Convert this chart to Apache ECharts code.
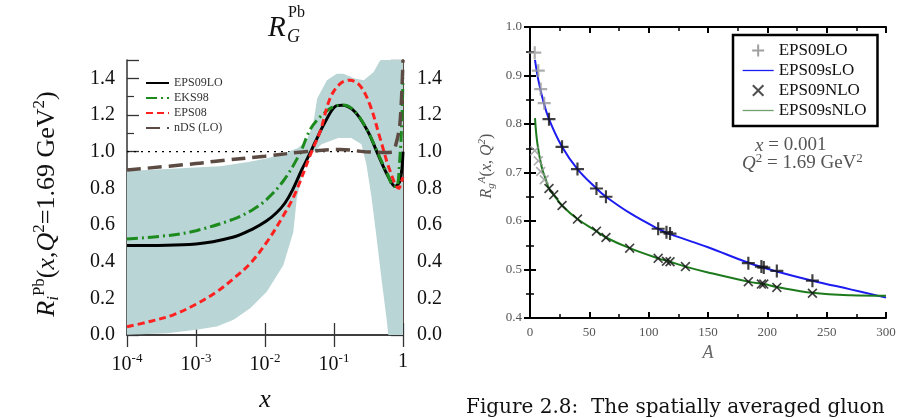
<!DOCTYPE html>
<html>
<head>
<meta charset="utf-8">
<script src="https://cdn.jsdelivr.net/npm/echarts@6/dist/echarts.min.js"></script>
<style>
  html, body { margin: 0; padding: 0; background: #fff; }
  #chart { width: 916px; height: 418px; }
</style>
</head>
<body>
<div id="chart"></div>
<script>
// left panel: R_G^Pb vs x (log axis)
var eps09loX = [1e-4, 1e-3, 3.4e-3, 6.6e-3, 1.06e-2, 1.48e-2, 1.95e-2, 2.5e-2, 3.4e-2, 4.47e-2, 5.3e-2, 7.4e-2, 0.103, 0.13, 0.2, 0.31, 0.435, 0.607, 0.765, 0.906, 1];
var eps09loY = [0.488, 0.497, 0.533, 0.578, 0.623, 0.668, 0.72, 0.79, 0.90, 0.99, 1.05, 1.16, 1.245, 1.253, 1.218, 1.11, 0.984, 0.866, 0.812, 0.84, 1.0];

var eks98X = [1e-4, 3.8e-4, 1e-3, 3.5e-3, 6.8e-3, 1.06e-2, 1.84e-2, 3.2e-2, 4.5e-2, 6.3e-2, 9.7e-2, 0.136, 0.2, 0.31, 0.435, 0.607, 0.74, 0.81, 0.906, 0.968, 1];
var eks98Y = [0.524, 0.542, 0.569, 0.632, 0.686, 0.74, 0.84, 0.99, 1.12, 1.19, 1.245, 1.254, 1.22, 1.11, 0.99, 0.87, 0.81, 0.81, 0.98, 1.2, 1.4];

var eps08X = [1e-4, 2.15e-4, 4.7e-4, 1e-3, 2.0e-3, 3.5e-3, 6.1e-3, 1.06e-2, 1.84e-2, 2.72e-2, 4.74e-2, 6.3e-2, 8.75e-2, 0.122, 0.17, 0.238, 0.333, 0.465, 0.65, 0.867, 0.955, 1];
var eps08Y = [0.045, 0.074, 0.11, 0.168, 0.236, 0.308, 0.39, 0.506, 0.65, 0.77, 1.0, 1.11, 1.29, 1.37, 1.39, 1.36, 1.254, 1.074, 0.894, 0.80, 0.84, 0.86];

var ndsX = [1e-4, 1e-3, 2.24e-3, 1e-2, 3.8e-2, 0.122, 0.28, 0.5, 0.69, 0.79, 0.906, 1];
var ndsY = [0.90, 0.935, 0.951, 0.975, 1.0, 1.012, 1.0, 0.996, 0.997, 1.04, 1.16, 1.5];

var bandUpX = [1e-4, 2.24e-3, 5.7e-3, 1e-2, 1.76e-2, 3.0e-2, 4.0e-2, 5.0e-2, 5.7e-2, 7.9e-2, 0.11, 0.138, 0.193, 0.27, 0.376, 0.465, 0.5, 1];
var bandUpY = [0.894, 0.92, 0.944, 0.962, 0.984, 1.02, 1.06, 1.15, 1.29, 1.39, 1.425, 1.425, 1.40, 1.39, 1.434, 1.497, 1.5, 1.5];
var bandLoX = [1e-4, 3.8e-4, 1e-3, 2.0e-3, 3.5e-3, 6.1e-3, 1.06e-2, 1.84e-2, 2.57e-2, 2.88e-2, 3.8e-2, 6.6e-2, 0.115, 0.178, 0.25, 0.295, 0.35, 0.414, 0.49, 0.58, 0.612, 1];
var bandLoY = [0.002, 0.01, 0.029, 0.047, 0.083, 0.146, 0.236, 0.38, 0.56, 0.74, 0.95, 1.04, 1.074, 1.074, 1.04, 0.93, 0.75, 0.53, 0.30, 0.083, 0, 0];

var unityX = [1e-4, 1];
var unityY = [1, 1];

// right panel: R_g^A vs A
var loA = [4, 7, 9, 12, 16, 27, 40, 56, 64, 108, 115, 118, 184, 195, 197, 208, 238];
var loR = [0.947, 0.910, 0.872, 0.843, 0.810, 0.753, 0.707, 0.667, 0.650, 0.584, 0.577, 0.574, 0.513, 0.506, 0.504, 0.497, 0.477];
var nloA = [4, 7, 9, 12, 16, 20, 27, 40, 56, 64, 84, 108, 115, 118, 131, 184, 195, 197, 208, 238];
var nloR = [0.745, 0.724, 0.702, 0.685, 0.667, 0.654, 0.632, 0.604, 0.579, 0.566, 0.544, 0.523, 0.517, 0.516, 0.506, 0.475, 0.470, 0.470, 0.463, 0.451];

var sloA = [4.2, 7, 11, 16, 27, 40, 56, 64, 85, 108, 118, 150, 184, 208, 238, 270, 300];
var sloR = [0.932, 0.891, 0.849, 0.810, 0.753, 0.707, 0.667, 0.650, 0.615, 0.584, 0.573, 0.546, 0.514, 0.496, 0.477, 0.459, 0.442];
var snloA = [4.2, 6.2, 9.8, 13.5, 16, 20, 27, 40, 56, 64, 84, 108, 118, 131, 150, 184, 197, 208, 238, 270, 300];
var snloR = [0.812, 0.760, 0.712, 0.684, 0.667, 0.654, 0.632, 0.604, 0.579, 0.566, 0.544, 0.523, 0.516, 0.506, 0.494, 0.475, 0.470, 0.464, 0.452, 0.447, 0.446];

function pairs(xs, ys) {
  return xs.map(function (x, i) { return [x, ys[i]]; });
}

var SERIF = '"Liberation Serif", "DejaVu Serif", serif';
var plusPath = 'path://M5,0h2v5h5v2h-5v5h-2v-5h-5v-2h5z';
var crossPath = 'path://M1.4,0L6,4.6L10.6,0L12,1.4L7.4,6L12,10.6L10.6,12L6,7.4L1.4,12L0,10.6L4.6,6L0,1.4Z';
var noDot = { opacity: 0 };

var chart = echarts.init(document.getElementById('chart'));

var leftTick = { inside: true, length: 12, lineStyle: { color: '#333', width: 1.3 } };
var leftLine = { lineStyle: { color: '#333', width: 1.5 } };
var rightTick = { inside: true, length: 6, lineStyle: { color: '#000', width: 2 } };
var rightLine = { lineStyle: { color: '#000', width: 2 } };
var rightMinor = { show: true, splitNumber: 2, length: 4, lineStyle: { color: '#000', width: 1.5 } };
var leftMinor = { show: true, splitNumber: 2, length: 7, lineStyle: { color: '#333', width: 1.2 } };

var option = {
  backgroundColor: '#fff',
  animation: false,
  grid: [
    { left: 127, top: 60, width: 276, height: 277 },
    { left: 530, top: 27, width: 356, height: 291 }
  ],
  xAxis: [
    {
      gridIndex: 0, type: 'log', logBase: 10, min: 1e-4, max: 1, position: 'bottom',
      axisLine: leftLine, axisTick: leftTick, splitLine: { show: false },
      axisLabel: {
        margin: 17, color: '#111', fontFamily: SERIF, fontSize: 20,
        formatter: function (v) {
          var e = Math.round(Math.log10(v));
          return e === 0 ? '1' : '10{s|' + e + '}';
        },
        rich: { s: { fontFamily: SERIF, fontSize: 13, color: '#111', padding: [0, 0, 12, 0] } }
      },
      name: 'x', nameLocation: 'middle', nameGap: 52,
      nameTextStyle: { fontFamily: SERIF, fontStyle: 'italic', fontSize: 26, color: '#111' }
    },
    {
      gridIndex: 0, type: 'log', logBase: 10, min: 1e-4, max: 1, position: 'top',
      axisLine: leftLine, axisTick: leftTick, axisLabel: { show: false }, splitLine: { show: false }
    },
    {
      gridIndex: 1, type: 'value', min: 0, max: 300, interval: 50, position: 'bottom',
      axisLine: rightLine, axisTick: rightTick, minorTick: rightMinor,
      splitLine: { show: false },
      axisLabel: { margin: 8, color: '#555', fontFamily: SERIF, fontSize: 13 },
      name: 'A', nameLocation: 'middle', nameGap: 26,
      nameTextStyle: { fontFamily: SERIF, fontStyle: 'italic', fontSize: 18, color: '#666' }
    },
    {
      gridIndex: 1, type: 'value', min: 0, max: 300, interval: 50, position: 'top',
      axisLine: rightLine, axisTick: rightTick, minorTick: rightMinor,
      splitLine: { show: false }, axisLabel: { show: false }
    }
  ],
  yAxis: [
    {
      gridIndex: 0, type: 'value', min: 0, max: 1.5, interval: 0.2, position: 'left',
      axisLine: leftLine, axisTick: leftTick, minorTick: leftMinor,
      splitLine: { show: false },
      axisLabel: {
        margin: 12, color: '#111', fontFamily: SERIF, fontSize: 20, showMaxLabel: false,
        formatter: function (v) { return v.toFixed(1); }
      }
    },
    {
      gridIndex: 0, type: 'value', min: 0, max: 1.5, interval: 0.2, position: 'right',
      axisLine: { lineStyle: { color: '#5c4b43', width: 2 } }, axisTick: leftTick, minorTick: leftMinor,
      splitLine: { show: false },
      axisLabel: {
        margin: 14, color: '#111', fontFamily: SERIF, fontSize: 20, showMaxLabel: false,
        formatter: function (v) { return v.toFixed(1); }
      }
    },
    {
      gridIndex: 1, type: 'value', min: 0.4, max: 1.0, interval: 0.1, position: 'left',
      axisLine: rightLine, axisTick: rightTick, minorTick: rightMinor,
      splitLine: { show: false },
      axisLabel: {
        margin: 8, color: '#555', fontFamily: SERIF, fontSize: 13,
        formatter: function (v) { return v.toFixed(1); }
      }
    },
    {
      gridIndex: 1, type: 'value', min: 0.4, max: 1.0, interval: 0.1, position: 'right',
      axisLine: rightLine, axisTick: rightTick, minorTick: rightMinor,
      splitLine: { show: false }, axisLabel: { show: false }
    }
  ],
  legend: [
    {
      orient: 'vertical', left: 145, top: 77, padding: 0,
      itemWidth: 23, itemHeight: 10, itemGap: 3,
      textStyle: { fontFamily: SERIF, fontSize: 12, color: '#333' },
      data: [
        { name: 'EPS09LO', itemStyle: noDot },
        { name: 'EKS98', itemStyle: noDot },
        { name: 'EPS08', itemStyle: noDot },
        { name: 'nDS (LO)', itemStyle: noDot }
      ]
    },
    {
      orient: 'vertical', left: 733, top: 35, padding: [7, 11, 7, 9],
      borderColor: '#000', borderWidth: 2.5, backgroundColor: '#fff',
      itemWidth: 31, itemHeight: 12, itemGap: 3,
      lineStyle: { width: 1.3 },
      textStyle: { fontFamily: SERIF, fontSize: 17, color: '#111' },
      data: [
        { name: 'EPS09LO ', itemStyle: { color: '#888' } },
        { name: 'EPS09sLO', itemStyle: noDot },
        { name: 'EPS09NLO', itemStyle: { color: '#222' } },
        { name: 'EPS09sNLO', itemStyle: noDot, lineStyle: { color: '#6f9f6f' } }
      ]
    }
  ],
  series: [
    {
      name: 'unity', type: 'line', xAxisIndex: 0, yAxisIndex: 0, z: 1, silent: true,
      data: pairs(unityX, unityY), symbol: 'none',
      lineStyle: { color: '#000', width: 1.3, type: [2, 5] }
    },
    {
      name: 'band', type: 'custom', xAxisIndex: 0, yAxisIndex: 0, z: 2, silent: true, clip: true,
      data: pairs(bandUpX, bandUpY),
      renderItem: function (params, api) {
        if (params.dataIndex !== 0) return null;
        var pts = [];
        bandUpX.forEach(function (x, i) { pts.push(api.coord([x, bandUpY[i]])); });
        for (var i = bandLoX.length - 1; i >= 0; i--) pts.push(api.coord([bandLoX[i], bandLoY[i]]));
        return { type: 'polygon', shape: { points: pts }, style: { fill: '#b9d5d6' } };
      }
    },
    {
      name: 'EPS09LO', type: 'line', xAxisIndex: 0, yAxisIndex: 0, z: 3,
      data: pairs(eps09loX, eps09loY), symbol: 'none', smooth: 0.35,
      lineStyle: { color: '#000', width: 3 }, itemStyle: { color: '#000' }
    },
    {
      name: 'EKS98', type: 'line', xAxisIndex: 0, yAxisIndex: 0, z: 3,
      data: pairs(eks98X, eks98Y), symbol: 'none', smooth: 0.35,
      lineStyle: { color: '#1c8a1c', width: 3, type: [11, 4, 2, 4] }, itemStyle: { color: '#1c8a1c' }
    },
    {
      name: 'EPS08', type: 'line', xAxisIndex: 0, yAxisIndex: 0, z: 3,
      data: pairs(eps08X, eps08Y), symbol: 'none', smooth: 0.35,
      lineStyle: { color: '#ff2020', width: 3, type: [7, 4] }, itemStyle: { color: '#ff2020' }
    },
    {
      name: 'nDS (LO)', type: 'line', xAxisIndex: 0, yAxisIndex: 0, z: 3,
      data: pairs(ndsX, ndsY), symbol: 'none', smooth: 0.35,
      lineStyle: { color: '#5c4b43', width: 3.5, type: [14, 7] }, itemStyle: { color: '#5c4b43' }
    },
    {
      name: 'EPS09sLO', type: 'line', xAxisIndex: 2, yAxisIndex: 2, z: 3,
      data: pairs(sloA, sloR), symbol: 'none', smooth: 0.4,
      lineStyle: { color: '#1c1cf0', width: 2 }, itemStyle: { color: '#1c1cf0' }
    },
    {
      name: 'EPS09sNLO', type: 'line', xAxisIndex: 2, yAxisIndex: 2, z: 3,
      data: pairs(snloA, snloR), symbol: 'none', smooth: 0.4,
      lineStyle: { color: '#1c7a1c', width: 2 }, itemStyle: { color: '#1c7a1c' }
    },
    {
      name: 'EPS09LO ', type: 'scatter', xAxisIndex: 2, yAxisIndex: 2, z: 4,
      data: pairs(loA, loR), symbol: plusPath, symbolSize: 13,
      itemStyle: { color: function (p) { return p.value[0] < 15 ? '#9a9a9a' : '#111'; } }
    },
    {
      name: 'EPS09NLO', type: 'scatter', xAxisIndex: 2, yAxisIndex: 2, z: 4,
      data: pairs(nloA, nloR), symbol: crossPath, symbolSize: 10,
      itemStyle: { color: function (p) { return p.value[0] < 15 ? '#9a9a9a' : '#111'; } }
    }
  ],
  graphic: [
    // left panel title R_G^Pb
    { type: 'text', left: 268, top: 14, style: { text: 'R', font: 'italic 29px ' + SERIF, fill: '#111' } },
    { type: 'text', left: 287, top: 28, style: { text: 'G', font: 'italic 18px ' + SERIF, fill: '#111' } },
    { type: 'text', left: 288, top: 5, style: { text: 'Pb', font: '16px ' + SERIF, fill: '#111' } },
    // left y title
    {
      type: 'text', x: 47, y: 204, rotation: Math.PI / 2,
      style: {
        text: '{it|R}{sub|i}{sup|Pb}({it|x},{it|Q}{sup|2}=1.69 GeV{sup|2})',
        align: 'center', verticalAlign: 'middle', fill: '#111',
        font: '26px ' + SERIF,
        rich: {
          it: { fontFamily: SERIF, fontSize: 26, fontStyle: 'italic' },
          sup: { fontFamily: SERIF, fontSize: 17, padding: [0, 0, 15, 0] },
          sub: { fontFamily: SERIF, fontSize: 17, fontStyle: 'italic', padding: [13, 0, 0, 0] }
        }
      }
    },
    // right y title
    {
      type: 'text', x: 487, y: 166, rotation: Math.PI / 2,
      style: {
        text: '{it|R}{sub|g}{sup|A}({it|x}, {it|Q}{sup|2})',
        align: 'center', verticalAlign: 'middle', fill: '#555',
        font: '16px ' + SERIF,
        rich: {
          it: { fontFamily: SERIF, fontSize: 16, fontStyle: 'italic' },
          sup: { fontFamily: SERIF, fontSize: 11, fontStyle: 'italic', padding: [0, 0, 9, 0] },
          sub: { fontFamily: SERIF, fontSize: 11, fontStyle: 'italic', padding: [8, 0, 0, 0] }
        }
      }
    },
    // annotation
    {
      type: 'text', left: 755, top: 136,
      style: {
        text: '{it|x} = 0.001', font: '19px ' + SERIF, fill: '#555',
        rich: { it: { fontFamily: SERIF, fontSize: 19, fontStyle: 'italic' } }
      }
    },
    {
      type: 'text', left: 742, top: 152,
      style: {
        text: '{it|Q}{sup|2} = 1.69 GeV{sup|2}', font: '19px ' + SERIF, fill: '#555',
        rich: {
          it: { fontFamily: SERIF, fontSize: 19, fontStyle: 'italic' },
          sup: { fontFamily: SERIF, fontSize: 13, padding: [0, 0, 10, 0] }
        }
      }
    },
    // caption
    {
      type: 'text', left: 466, top: 398,
      style: { text: 'Figure 2.8:  The spatially averaged gluon', font: '20px "DejaVu Serif", serif', fill: '#111' }
    }
  ]
};

chart.setOption(option);
</script>
</body>
</html>
